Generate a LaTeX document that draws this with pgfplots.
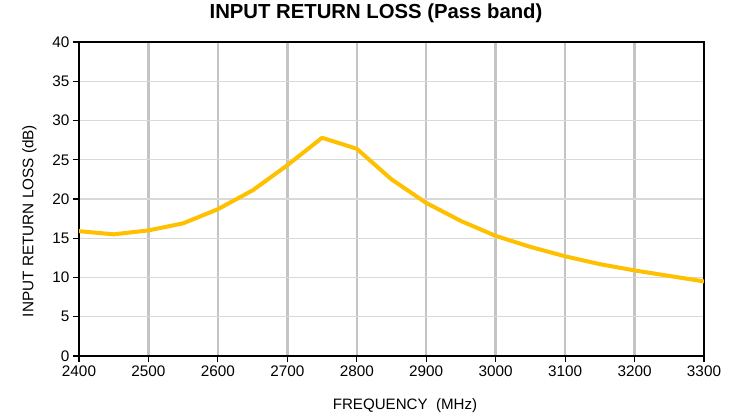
\documentclass[border=0pt]{standalone}
\usepackage{pgfplots}
\pgfplotsset{compat=1.18}
\usepackage{fontspec}
\setmainfont{Liberation Sans}
\definecolor{gold}{HTML}{FFC000}
\definecolor{vgrid}{HTML}{C4C4C4}
\definecolor{hgrid}{HTML}{D9D9D9}
\begin{document}
\begin{tikzpicture}
\path[use as bounding box] (0pt,0pt) rectangle (736pt,415pt);
\begin{axis}[
  at={(79pt,59pt)}, anchor=south west,
  scale only axis, width=625pt, height=314pt,
  xmin=2400, xmax=3300, ymin=0, ymax=40,
  xtick={2400,2500,...,3300}, ytick={0,5,...,40},
  xtick pos=left, ytick pos=left,
  /pgf/number format/assume math mode=true,
  xticklabel style={/pgf/number format/1000 sep={}, font=\fontsize{15.3}{17}\selectfont},
  yticklabel style={font=\fontsize{15.3}{17}\selectfont},
  tick align=outside, tick style={black, line width=1.2pt},
  major tick length=6pt,
  axis line style={black, line width=2pt},
  grid=major,
  x grid style={vgrid, line width=2.4pt},
  y grid style={hgrid, line width=1.4pt},
  xlabel={FREQUENCY\ \ (MHz)},
  ylabel={INPUT RETURN LOSS (dB)},
  xlabel style={font=\fontsize{15.1}{17}\selectfont, at={(axis description cs:0.5,0)}, anchor=center, yshift=-50pt, xshift=13.5pt},
  ylabel style={font=\fontsize{15.3}{17}\selectfont, at={(axis description cs:0,0.5)}, anchor=center, yshift=49.5pt, xshift=-22pt},
  title={\textbf{INPUT RETURN LOSS (Pass band)}},
  title style={font=\fontsize{20.3}{23}\selectfont, at={(axis description cs:0.5,1)}, anchor=center, yshift=22.5pt, xshift=-15.5pt},
]
\addplot[gold, line width=4pt, line join=round] coordinates {
(2400,15.9) (2450,15.5) (2500,16.0) (2550,16.9) (2600,18.7) (2650,21.1)
(2700,24.3) (2750,27.8) (2800,26.4) (2850,22.5) (2900,19.5) (2950,17.2)
(3000,15.3) (3050,13.9) (3100,12.7) (3150,11.7) (3200,10.9) (3250,10.2) (3300,9.5)
};
\end{axis}
\end{tikzpicture}
\end{document}
